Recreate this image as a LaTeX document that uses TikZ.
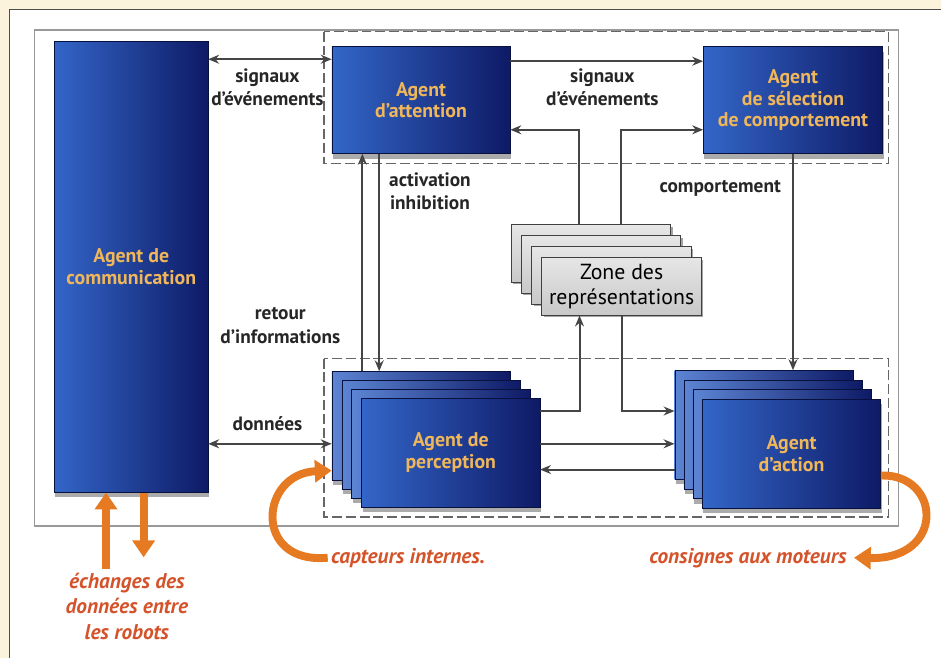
\documentclass[tikz,border=0pt]{standalone}
\usepackage{fontspec}
\setmainfont{PT Sans}
\usetikzlibrary{arrows.meta,shadows}
\tikzset{>={Stealth[length=11pt,width=9pt]}}

\definecolor{cream}{HTML}{FCF3DC}
\definecolor{agentlight}{HTML}{3366C8}
\definecolor{agentdark}{HTML}{0E1A66}
\definecolor{agentgold}{HTML}{F0B65A}
\definecolor{zonegray}{HTML}{C8C8C8}
\definecolor{linegray}{HTML}{454545}
\definecolor{warm}{HTML}{E57A22}
\definecolor{warmtext}{HTML}{D4532B}

\tikzset{
  agentbox/.style={draw=agentdark!60!black, line width=0.4pt,
    left color=agentlight, right color=agentdark, text=agentgold,
    align=center, inner sep=0pt, font=\fontsize{20}{22}\selectfont\bfseries,
    drop shadow={shadow xshift=1pt, shadow yshift=-5pt, fill=black!55, opacity=0.6}},
  layerbox/.style={agentbox, left color=agentlight!80!white},
  zonebox/.style={draw=black!75, line width=1pt, top color=zonegray!45,
    bottom color=zonegray, align=center, inner sep=0pt,
    font=\fontsize{22}{25}\selectfont,
    drop shadow={shadow xshift=2pt, shadow yshift=-2pt, fill=black!70}},
  lbl/.style={font=\fontsize{19.5}{24}\selectfont\bfseries, text=black!85, align=center},
  warmlbl/.style={font=\fontsize{21.5}{26}\selectfont\bfseries\itshape, text=warmtext, align=center},
  link/.style={draw=linegray, line width=2pt},
  warmarrow/.style={draw=warm, line width=8pt, -{Triangle[width=22pt,length=17pt]}},
  zonedash/.style={draw=black!60, line width=1.4pt, dash pattern=on 10pt off 4pt},
}

\begin{document}
\begin{tikzpicture}[x=1pt,y=-1pt]
% page and frames
\fill[cream] (0,0) rectangle (950,664);
\fill[white] (10,10) rectangle (950,664);
\draw[black!70, line width=1pt] (10,664) -- (10,10) -- (950,10);
\draw[black!40, line width=1.6pt] (35,30) rectangle (907,531);
\draw[zonedash] (327,32) rectangle (897,165);
\draw[zonedash] (327,362) rectangle (897,522);

% agents
\node[agentbox, minimum width=155pt, minimum height=455pt] (comm) at (132.5,269.5) {Agent de\\communication};
\node[agentbox, minimum width=180pt, minimum height=108pt] (attention) at (425,101) {Agent\\d'attention};
\node[agentbox, minimum width=181pt, minimum height=108pt] (selection) at (800.5,101) {Agent\\de sélection\\de comportement};

% stacked layers
\foreach \k in {3,2,1}
  \node[zonebox, minimum width=161pt, minimum height=58pt] (zone\k) at (627.5-10.3*\k, 289-11*\k) {};
\node[zonebox, minimum width=161pt, minimum height=58pt] (zone) at (627.5,289) {Zone des\\représentations};

\foreach \k in {3,2,1}
  \node[layerbox, minimum width=180pt, minimum height=110pt] (perc\k) at (455-10*\k, 457-9*\k) {};
\node[agentbox, minimum width=180pt, minimum height=110pt] (perception) at (455,457) {Agent de\\perception};

\foreach \k in {3,2,1}
  \node[layerbox, minimum width=180pt, minimum height=110pt] (act\k) at (799-9.3*\k, 458-9.7*\k) {};
\node[agentbox, minimum width=180pt, minimum height=110pt] (action) at (799,458) {Agent\\d'action};

% links
\coordinate (sig) at ([yshift=-13pt]attention.north west);
\draw[link,<->] (comm.east |- sig) -- (sig);
\coordinate (sig2) at ([yshift=-15pt]attention.north east);
\draw[link,->] (sig2) -- (sig2 -| selection.west);
\draw[link,->] ([xshift=-12pt]zone3.north) |- ([yshift=-30pt]attention.east);
\draw[link,->] ([xshift=30pt]zone3.north) |- ([yshift=-30pt]selection.west);
\coordinate (actin) at ([xshift=48pt]attention.south west);
\draw[link,->] (actin) -- (actin |- perc3.north);
\coordinate (retour) at ([xshift=31pt]attention.south west);
\draw[link,<-] (retour) -- (retour |- perc3.north);
\draw[link,->] (selection.south) -- (selection.south |- act3.north);
\draw[link,->] ([yshift=42pt]perception.east) -| ([xshift=-42.5pt]zone.south);
\draw[link,->] (zone.south) |- ([yshift=14pt]act3.west);
\coordinate (pa) at ([yshift=9pt]perception.east);
\draw[link,->] (pa) -- (pa -| act3.west);
\coordinate (ap) at ([yshift=-17pt]perception.east);
\draw[link,<-] (ap) -- (ap -| act3.west);
\coordinate (don) at ([yshift=-18pt]perc3.west);
\draw[link,<->] (comm.east |- don) -- (don);

% labels
\node[lbl] (sigtxt) at (270,88) {signaux\\d'événements};
\node[lbl] (sigtxt2) at (608,88) {signaux\\d'événements};
\node[lbl] (acttxt) at (434,193) {activation\\inhibition};
\node[lbl] (rettxt) at (283,329) {retour\\d'informations};
\node[lbl] (comptxt) at (727,190) {comportement};
\node[lbl] (dontxt) at (270,428) {données};

% exchanges outside the robot
\node[warmlbl] (echanges) at (128,612) {échanges des\\données entre\\les robots};
\coordinate (up) at ([xshift=-21pt]echanges.north);
\coordinate (down) at ([xshift=17pt,yshift=12pt]echanges.north);
\draw[warmarrow] (up) -- (up |- comm.south);
\draw[warmarrow] (down |- comm.south) -- (down);
\node[warmlbl] (capteurs) at (412,563) {capteurs internes.};
\draw[warmarrow] (capteurs.west) .. controls (255,570) and (262,478) .. ([yshift=-45pt]perc3.west);
\node[warmlbl] (consignes) at (755,563) {consignes aux moteurs};
\draw[warmarrow] ([yshift=-22pt]action.east) .. controls (950,478) and (955,565) .. ([xshift=4pt]consignes.east);
\end{tikzpicture}
\end{document}
